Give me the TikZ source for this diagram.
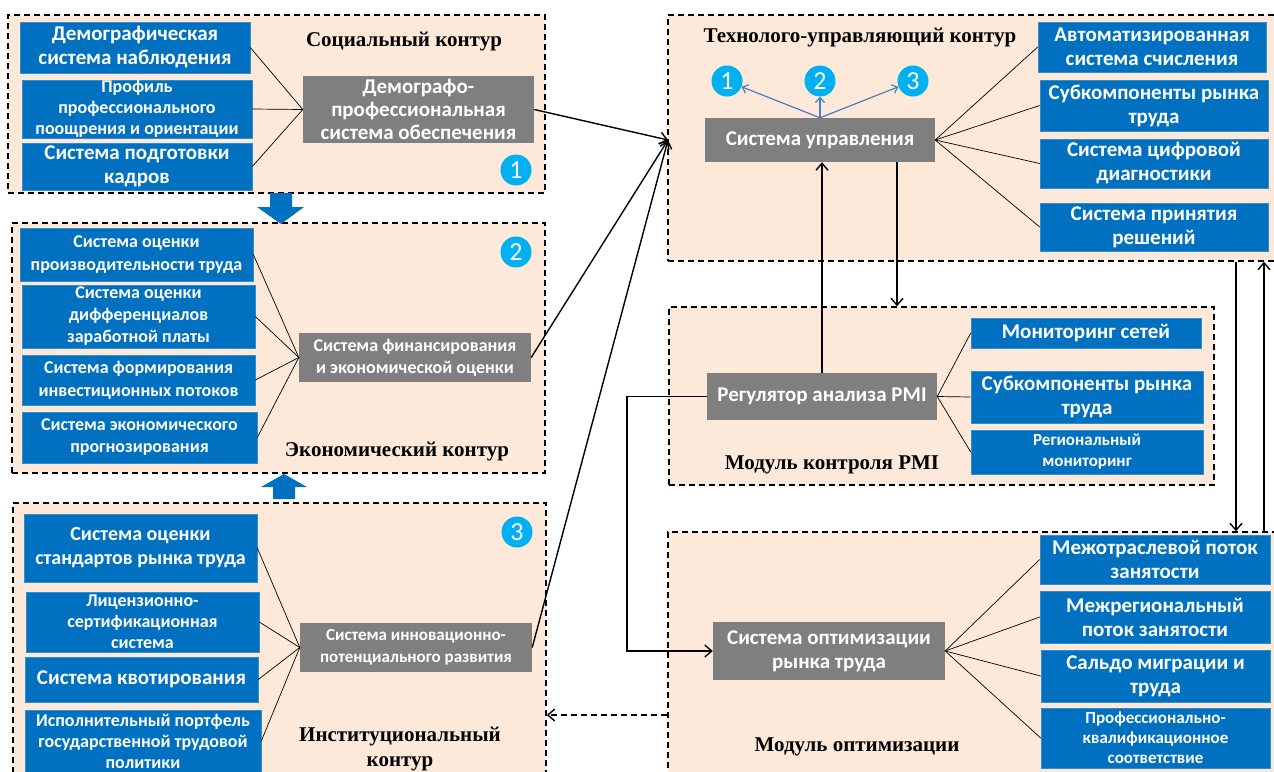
\documentclass[tikz,border=0pt]{standalone}
\usepackage{fontspec}
\usetikzlibrary{arrows.meta}
\newfontfamily\calfont{Carlito}
\newfontfamily\tnrfont{Liberation Serif}
\newcommand{\myfs}[2]{\fontsize{#1}{#2}\selectfont}
\definecolor{boxblue}{HTML}{0070C0}
\definecolor{boxgray}{HTML}{7F7F7F}
\definecolor{panelfill}{HTML}{FCE9DA}
\definecolor{circblue}{HTML}{00B0F0}
\definecolor{thinblue}{HTML}{4A7EBB}
\tikzset{
  panel/.style={draw=black, fill=panelfill, dash pattern=on 6pt off 4pt, line width=1.4pt},
  bbox/.style 2 args={fill=boxblue, text=white, minimum width=#1, minimum height=#2, inner sep=0pt, align=center, draw=boxblue!80!white, line width=0.6pt},
  gbox/.style 2 args={fill=boxgray, text=white, minimum width=#1, minimum height=#2, inner sep=0pt, align=center},
  ttl/.style={font=\tnrfont\bfseries\myfs{21}{25}, align=center, inner sep=0pt},
  circ/.style={circle, fill=circblue, text=white, minimum size=31pt, inner sep=0pt, font=\calfont\myfs{26}{26}},
  thin/.style={draw=black, line width=0.7pt},
  arr/.style={draw=black, line width=1.4pt, -{Straight Barb[length=7pt,width=12pt,line width=1.4pt]}},
  barr/.style={draw=thinblue, line width=1.2pt, -{Straight Barb[length=5pt,width=9pt,line width=1.2pt]}},
  fat/.style={fill=boxblue}
}
\begin{document}
\begin{tikzpicture}[x=1pt,y=-1pt]
\useasboundingbox (0,0) rectangle (1274,771);
\clip (0,0) rectangle (1274,771);
\fill[white] (0,0) rectangle (1274,771);

% panels
\node[panel, minimum width=537pt, minimum height=178pt, inner sep=0pt] (P1) at (276.5,104) {};
\node[panel, minimum width=533pt, minimum height=250pt, inner sep=0pt] (P2) at (278.5,348) {};
\node[panel, minimum width=533pt, minimum height=290pt, inner sep=0pt] (P3) at (279.5,648) {};
\node[panel, minimum width=630pt, minimum height=246pt, inner sep=0pt] (PT) at (983,138) {};
\node[panel, minimum width=545pt, minimum height=178pt, inner sep=0pt] (PM) at (941.5,396) {};
\node[panel, minimum width=630pt, minimum height=260pt, inner sep=0pt] (PO) at (983,662) {};

% block arrows between panels
\fill[fat] (270,193) -- (292,193) -- (292,207) -- (304,207) -- (281,224) -- (257,207) -- (270,207) -- cycle;
\fill[fat] (273,499) -- (295,499) -- (295,487) -- (307,487) -- (284,474) -- (261,487) -- (273,487) -- cycle;

% Panel 1
\node[ttl] (t1) at (404,42) {Социальный контур};
\node[bbox={230pt}{51pt}, font=\calfont\bfseries\myfs{21}{24}] (b11) at (135,47.5) {Демографическая\\система наблюдения};
\node[bbox={230pt}{58pt}, font=\calfont\bfseries\myfs{18}{21}] (b12) at (137,109) {Профиль\\профессионального\\поощрения и ориентации};
\node[bbox={230pt}{47pt}, font=\calfont\bfseries\myfs{21}{24}] (b13) at (137,166.5) {Система подготовки\\кадров};
\node[gbox={231pt}{67pt}, font=\calfont\bfseries\myfs{21}{23}] (g1) at (418.5,109.5) {Демографо-\\профессиональная\\система обеспечения};
\node[circ] (n1) at (516,170) {1};
\foreach \b in {b11,b12,b13} \draw[thin] (\b.east) -- (g1.west);

% Panel 2
\node[ttl] (t2) at (397,452) {Экономический контур};
\node[bbox={233pt}{53pt}, font=\calfont\bfseries\myfs{18}{23}] (b21) at (136.5,254.5) {Система оценки\\производительности труда};
\node[bbox={233pt}{63pt}, font=\calfont\bfseries\myfs{18}{22}] (b22) at (138.5,316.5) {Система оценки\\дифференциалов\\заработной платы};
\node[bbox={233pt}{50pt}, font=\calfont\bfseries\myfs{18}{23}] (b23) at (138.5,380) {Система формирования\\инвестиционных потоков};
\node[bbox={235pt}{51pt}, font=\calfont\bfseries\myfs{18}{22}] (b24) at (139.5,437.5) {Система экономического\\прогнозирования};
\node[gbox={232pt}{49pt}, font=\calfont\bfseries\myfs{18}{22}] (g2) at (415,357.5) {Система финансирования\\и экономической оценки};
\node[circ] (n2) at (516,252) {2};
\foreach \b in {b21,b22,b23,b24} \draw[thin] (\b.east) -- (g2.west);

% Panel 3
\node[ttl] (t3) at (400,749) {Институциональный\\контур};
\node[bbox={233pt}{68pt}, font=\calfont\bfseries\myfs{20}{24}] (b31) at (140.5,548) {Система оценки\\стандартов рынка труда};
\node[bbox={233pt}{60pt}, font=\calfont\bfseries\myfs{18}{21}] (b32) at (142.5,622) {Лицензионно-\\сертификационная\\система};
\node[bbox={233pt}{45pt}, font=\calfont\bfseries\myfs{21}{24}] (b33) at (141.5,679.5) {Система квотирования};
\node[bbox={236pt}{62pt}, font=\calfont\bfseries\myfs{18}{21}] (b34) at (143,741) {Исполнительный портфель\\государственной трудовой\\политики};
\node[gbox={232pt}{49pt}, font=\calfont\bfseries\myfs{17}{22}] (g3) at (416,647.5) {Система инновационно-\\потенциального развития};
\node[circ] (n3) at (517,532) {3};
\foreach \b in {b31,b32,b33,b34} \draw[thin] (\b.east) -- (g3.west);

% Panel T
\node[ttl] (tT) at (860,38) {Технолого-управляющий контур};
\node[gbox={230pt}{44pt}, font=\calfont\bfseries\myfs{21}{24}] (gs) at (820,140) {Система управления};
\node[circ] (c1) at (727,81) {1};
\node[circ] (c2) at (820,81) {2};
\node[circ] (c3) at (913,81) {3};
\foreach \c in {c1,c2,c3} \draw[barr] (gs.north) -- (\c);
\node[bbox={228pt}{50pt}, font=\calfont\bfseries\myfs{21}{24}] (r1) at (1152,47) {Автоматизированная\\система счисления};
\node[bbox={228pt}{51pt}, font=\calfont\bfseries\myfs{21}{24}] (r2) at (1154,105.5) {Субкомпоненты рынка\\труда};
\node[bbox={228pt}{49pt}, font=\calfont\bfseries\myfs{21}{24}] (r3) at (1154,163.5) {Система цифровой\\диагностики};
\node[bbox={228pt}{48pt}, font=\calfont\bfseries\myfs{21}{24}] (r4) at (1154,227) {Система принятия\\решений};
\foreach \b in {r1,r2,r3,r4} \draw[thin] (gs.east) -- (\b.west);

% Panel M
\node[ttl] (tM) at (832,465) {Модуль контроля PMI};
\node[gbox={230pt}{47pt}, font=\calfont\bfseries\myfs{21}{24}] (gr) at (822,396.5) {Регулятор анализа PMI};
\node[bbox={230pt}{30pt}, font=\calfont\bfseries\myfs{21}{24}] (m1) at (1086,333) {Мониторинг сетей};
\node[bbox={232pt}{52pt}, font=\calfont\bfseries\myfs{21}{24}] (m2) at (1087,397) {Субкомпоненты рынка\\труда};
\node[bbox={232pt}{44pt}, font=\calfont\bfseries\myfs{17}{21}] (m3) at (1087,452) {Региональный\\мониторинг};
\foreach \b in {m1,m2,m3} \draw[thin] (gr.east) -- (\b.west);

% Panel O
\node[ttl] (tO) at (857,747) {Модуль оптимизации};
\node[gbox={232pt}{58pt}, font=\calfont\bfseries\myfs{21}{24}] (go) at (829,651) {Система оптимизации\\рынка труда};
\node[bbox={230pt}{49pt}, font=\calfont\bfseries\myfs{21}{24}] (o1) at (1155,559.5) {Межотраслевой поток\\занятости};
\node[bbox={230pt}{52pt}, font=\calfont\bfseries\myfs{21}{24}] (o2) at (1155,617) {Межрегиональный\\поток занятости};
\node[bbox={229pt}{52pt}, font=\calfont\bfseries\myfs{21}{24}] (o3) at (1155.5,676) {Сальдо миграции и\\труда};
\node[bbox={229pt}{60pt}, font=\calfont\bfseries\myfs{17}{20}] (o4) at (1155.5,738) {Профессионально-\\квалификационное\\соответствие};
\foreach \b in {o1,o2,o3,o4} \draw[thin] (go.east) -- (\b.west);

% connectors
\coordinate (conv) at (668,140);
\draw[arr] (g1.east) -- (conv);
\draw[arr] (g2.east) -- (conv);
\draw[arr] (g3.east) -- (conv);
\draw[arr] (gr.north) -- (gr.north |- gs.south);
\draw[arr] ([xshift=77pt]gs.south) -- ([xshift=77pt]gs.south |- PM.north);
\draw[arr] (gr.west) -- ++(-80,0) |- (go.west);
\draw[arr, dash pattern=on 6pt off 4pt] (PO.west |- 0,715) -- (P3.east |- 0,715);
\coordinate (dn) at (1236,0);
\coordinate (up) at (1264,0);
\draw[arr] (dn |- PT.south) -- (dn |- PO.north);
\draw[arr] (up |- PO.north) -- (up |- PT.south);
\end{tikzpicture}
\end{document}
